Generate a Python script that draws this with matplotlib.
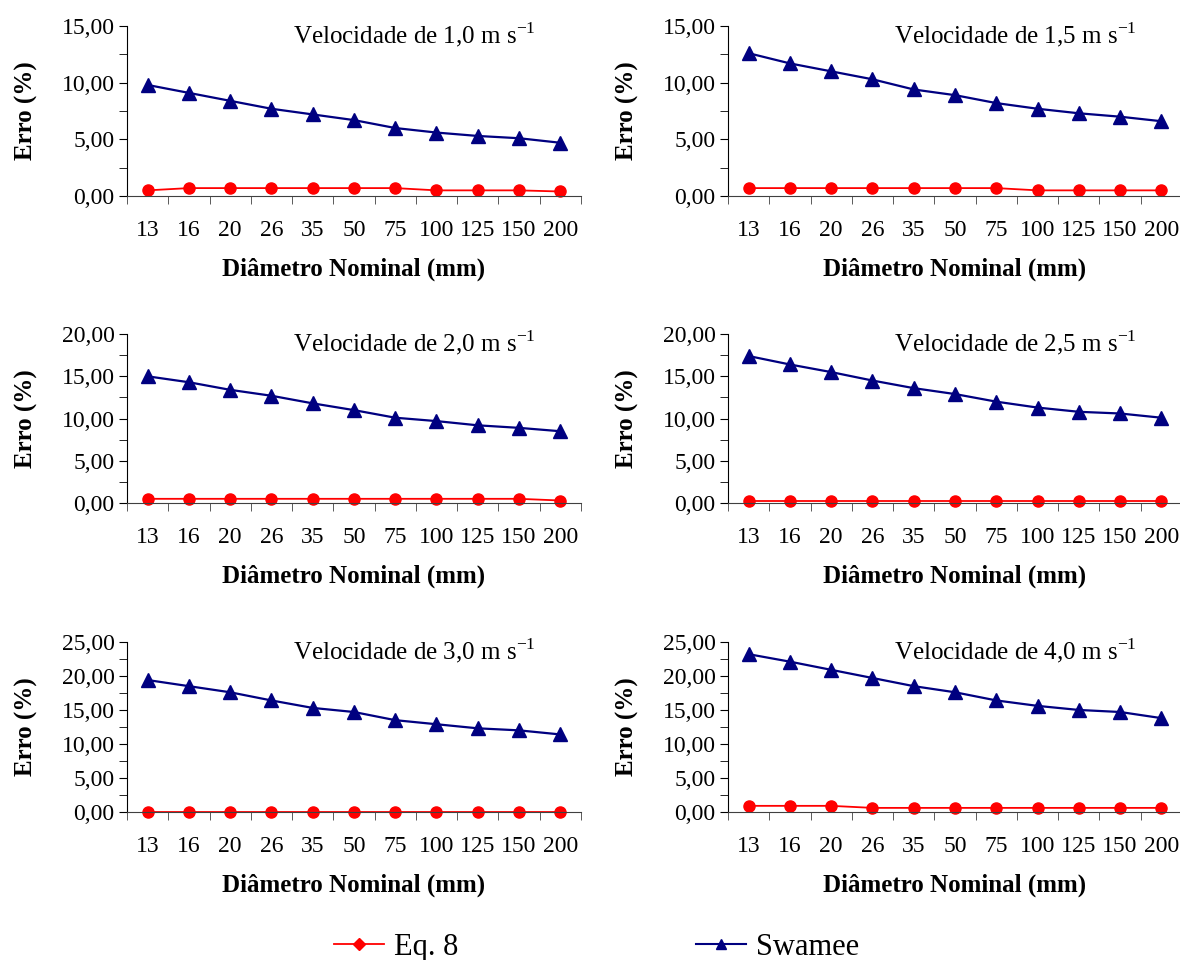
import matplotlib
matplotlib.use("Agg")
import matplotlib.pyplot as plt
from matplotlib.ticker import MultipleLocator, FixedLocator, FuncFormatter

plt.rcParams['font.family'] = ['Liberation Serif', 'DejaVu Serif']
plt.rcParams['mathtext.fontset'] = 'custom'
plt.rcParams['mathtext.rm'] = 'Liberation Serif'

# Diametros nominais (mm)
diametros = ["13", "16", "20", "26", "35", "50", "75", "100", "125", "150", "200"]

velocidades = ["1,0", "1,5", "2,0", "2,5", "3,0", "4,0"]

# Erro (%) - Swamee
swamee_10 = [9.8, 9.1, 8.4, 7.7, 7.2, 6.7, 6.0, 5.6, 5.3, 5.1, 4.7]
swamee_15 = [12.6, 11.7, 11.0, 10.3, 9.4, 8.9, 8.2, 7.7, 7.3, 7.0, 6.6]
swamee_20 = [15.0, 14.3, 13.4, 12.7, 11.8, 11.0, 10.1, 9.7, 9.2, 8.9, 8.5]
swamee_25 = [17.4, 16.4, 15.5, 14.5, 13.6, 12.9, 12.0, 11.3, 10.8, 10.6, 10.1]
swamee_30 = [19.4, 18.5, 17.6, 16.4, 15.3, 14.7, 13.5, 12.9, 12.3, 12.0, 11.4]
swamee_40 = [23.2, 22.1, 20.9, 19.7, 18.5, 17.6, 16.4, 15.6, 15.0, 14.7, 13.8]

# Erro (%) - Eq. 8
eq8_10 = [0.5, 0.7, 0.7, 0.7, 0.7, 0.7, 0.7, 0.5, 0.5, 0.5, 0.4]
eq8_15 = [0.7, 0.7, 0.7, 0.7, 0.7, 0.7, 0.7, 0.5, 0.5, 0.5, 0.5]
eq8_20 = [0.5, 0.5, 0.5, 0.5, 0.5, 0.5, 0.5, 0.5, 0.5, 0.5, 0.3]
eq8_25 = [0.3, 0.3, 0.3, 0.3, 0.3, 0.3, 0.3, 0.3, 0.3, 0.3, 0.3]
eq8_30 = [0.05, 0.05, 0.05, 0.05, 0.05, 0.05, 0.05, 0.05, 0.05, 0.05, 0.05]
eq8_40 = [0.9, 0.9, 0.9, 0.6, 0.6, 0.6, 0.6, 0.6, 0.6, 0.6, 0.6]

ymax = [15, 15, 20, 20, 25, 25]

swamee = [swamee_10, swamee_15, swamee_20, swamee_25, swamee_30, swamee_40]
eq8 = [eq8_10, eq8_15, eq8_20, eq8_25, eq8_30, eq8_40]

fig = plt.figure(figsize=(11.8, 9.6), dpi=100)

lefts = [0.1076, 0.617]
rows = [(0.7958, 0.1771), (0.476, 0.176), (0.1542, 0.1771)]

fmt = FuncFormatter(lambda v, p: ("%.2f" % v).replace(".", ","))
x = list(range(len(diametros)))

for i in range(6):
    b, h = rows[i // 2]
    ax = fig.add_axes([lefts[i % 2], b, 0.3847, h])
    ax.plot(x, eq8[i], color='#FF0000', marker='o', markersize=8, lw=1.3, clip_on=False)
    ax.plot(x, swamee[i], color='#000080', marker='^', markersize=10, lw=1.6, clip_on=False)
    ax.set_xlim(-0.5, len(diametros) - 0.5)
    ax.set_ylim(0, ymax[i])
    ax.yaxis.set_major_locator(MultipleLocator(5))
    ax.yaxis.set_minor_locator(MultipleLocator(2.5))
    ax.yaxis.set_major_formatter(fmt)
    ax.set_xticks(x)
    ax.set_xticklabels(diametros)
    ax.xaxis.set_minor_locator(FixedLocator([k - 0.5 for k in range(len(diametros) + 1)]))
    ax.tick_params(axis='x', which='major', length=0, labelsize=17, pad=17)
    ax.tick_params(axis='x', which='minor', length=6, direction='out', color='#404040')
    ax.tick_params(axis='y', which='both', length=6, direction='out', labelsize=17, pad=3)
    for s in ['top', 'right']:
        ax.spines[s].set_visible(False)
    ax.spines['bottom'].set_color('#404040')
    ax.set_xlabel("Diâmetro Nominal (mm)", fontsize=18, fontweight='bold', labelpad=12)
    ax.set_ylabel("Erro (%)", fontsize=18, fontweight='bold', labelpad=17)
    ax.text(0.366, 0.9, "Velocidade de " + velocidades[i] + r" m s$^{-1}$",
            transform=ax.transAxes, fontsize=18, va='baseline', ha='left')

h1, = plt.plot([], [], color='#FF0000', marker='D', markersize=6, lw=1.3)
h2, = plt.plot([], [], color='#000080', marker='^', markersize=7, lw=1.5)
fig.legend([h1, h2], ["Eq. 8", "Swamee"], loc='center', bbox_to_anchor=(0.5055, 0.0135),
           ncol=2, frameon=False, fontsize=22, columnspacing=7.8, handlelength=1.64,
           handletextpad=0.3, borderpad=0, borderaxespad=0)

fig.savefig("out.png", dpi=100)
